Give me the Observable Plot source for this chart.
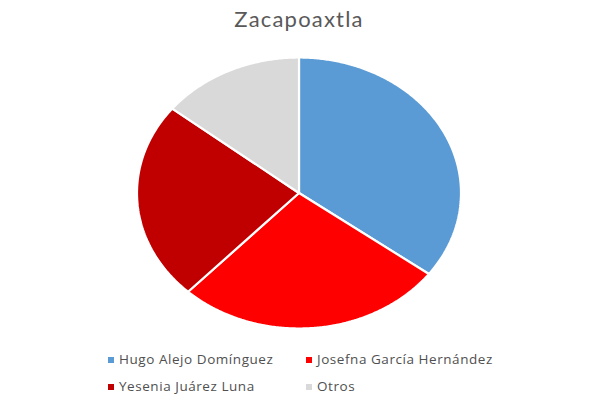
<!DOCTYPE html>
<html>
<head>
<meta charset="utf-8">
<script src="https://cdn.jsdelivr.net/npm/d3@7"></script>
<script src="https://cdn.jsdelivr.net/npm/@observablehq/plot@0.6"></script>
<style>
  html, body { margin: 0; padding: 0; background: #fff; }
  #wrap { position: relative; width: 600px; height: 400px; overflow: hidden; }
  #title { position: absolute; left: 0; top: 5px; width: 598px; text-align: center;
    font-family: Lato, "Open Sans", sans-serif; font-size: 22px; color: #595959; letter-spacing: 1.2px; }
  #chart { position: absolute; left: 0; top: 45px; }
  .leg { position: absolute; font-family: "Open Sans", sans-serif; font-size: 13.5px; color: #505050; white-space: nowrap; line-height: 16px; letter-spacing: 0.55px; }
  .sw { display: inline-block; width: 6px; height: 6px; margin-right: 5px; vertical-align: 1px; }
</style>
</head>
<body>
<div id="wrap">
  <div id="title">Zacapoaxtla</div>
  <div id="chart"></div>
  <div id="legend"></div>
</div>
<script>
const categories = ["Hugo Alejo Domínguez", "Josefna García Hernández", "Yesenia Juárez Luna", "Otros"];
const values = [35.2, 26.8, 23.7, 14.3];
const colors = ["#5B9BD5", "#FF0000", "#C00000", "#D9D9D9"];
const chartTitle = "Zacapoaxtla";

document.getElementById("title").textContent = chartTitle;

const table = categories.map((c, i) => ({name: c, value: values[i], color: colors[i]}));
const arcs = d3.pie().sort(null).value(d => d.value)(table);

// build slice polygons in unit coordinates from the pie angles
const pts = [];
for (const a of arcs) {
  const n = Math.max(2, Math.ceil((a.endAngle - a.startAngle) / (Math.PI / 360)));
  pts.push({name: a.data.name, x: 0, y: 0});
  for (let k = 0; k <= n; k++) {
    const t = a.startAngle + (a.endAngle - a.startAngle) * k / n;
    pts.push({name: a.data.name, x: Math.sin(t), y: Math.cos(t)});
  }
  pts.push({name: a.data.name, x: 0, y: 0});
}

const top0 = 45;
const plot = Plot.plot({
  width: 600,
  height: 295,
  margin: 0,
  x: {domain: [-1, 1], range: [136.5, 460.5], axis: null},
  y: {domain: [-1, 1], range: [328 - top0, 57 - top0], axis: null},
  color: {domain: categories, range: colors},
  marks: [
    Plot.line(pts, {x: "x", y: "y", z: "name", fill: "name", stroke: "white", strokeWidth: 2.2, strokeLinejoin: "miter", curve: "linear"})
  ]
});
document.getElementById("chart").appendChild(plot);

const legPos = [[108, 351], [306, 351], [108, 378], [306, 378]];
const legend = document.getElementById("legend");
table.forEach((d, i) => {
  const el = document.createElement("div");
  el.className = "leg";
  el.style.left = legPos[i][0] + "px";
  el.style.top = legPos[i][1] + "px";
  el.innerHTML = `<span class="sw" style="background:${d.color}"></span>`;
  el.appendChild(document.createTextNode(d.name));
  legend.appendChild(el);
});
</script>
</body>
</html>
